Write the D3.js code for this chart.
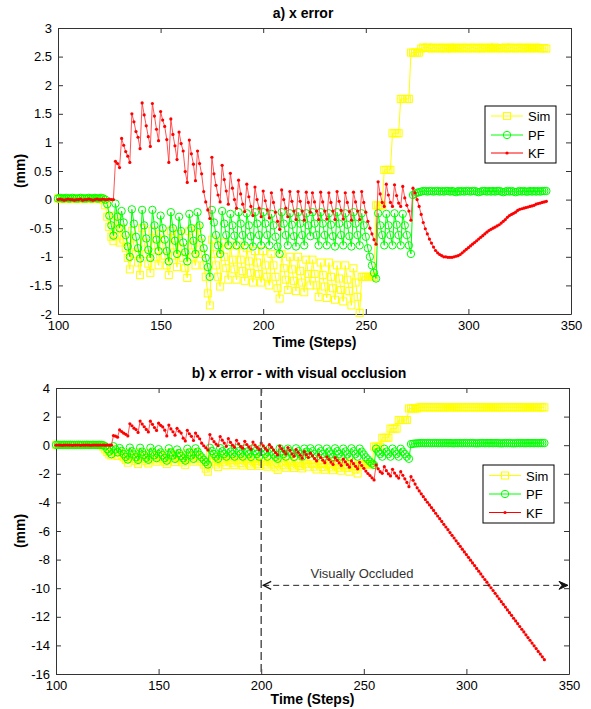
<!DOCTYPE html>
<html>
<head>
<meta charset="utf-8">
<title>x error</title>
<script src="https://d3js.org/d3.v7.min.js"></script>
<style>
  body { margin: 0; background: #fff; }
  text { font-family: Arial, "Liberation Sans", sans-serif; }
</style>
</head>
<body>
<script>
// time steps 100..338, one sample per step
var firstStep = 100;

var simErr = [
  0.02,0.02,0.01,0.02,0.02,0.01,0.02,0.02,0.01,0.02,   // 100
  0.02,0.01,0.02,0.02,0.01,0.02,0.02,0.01,0.02,0.02,   // 110
  0.01,0.02,0.00,-0.10,-0.30,-0.48,-0.65,-0.72,-0.28,-0.52, // 120
  -0.75,-0.50,-0.70,-0.85,-1.02,-1.22,-0.55,-0.80,-0.95,-1.10, // 130
  -1.32,-0.50,-0.75,-0.95,-1.12,-1.28,-0.55,-0.80,-1.00,-1.15, // 140
  -0.60,-0.80,-0.98,-1.15,-1.32,-0.55,-0.80,-0.98,-1.18,-0.60, // 150
  -0.85,-1.02,-1.20,-1.37,-0.55,-0.80,-1.00,-1.15,-0.50,-0.75, // 160
  -0.95,-1.15,-1.35,-1.64,-1.85,-0.70,-0.95,-1.15,-1.35,-1.52, // 170
  -0.75,-1.00,-1.20,-1.40,-0.80,-1.05,-1.22,-1.40,-0.80,-1.05, // 180
  -1.25,-1.42,-0.85,-1.08,-1.28,-1.45,-0.90,-1.10,-1.30,-1.45, // 190
  -0.90,-1.15,-1.35,-1.50,-0.95,-1.15,-1.35,-1.55,-1.73,-0.95, // 200
  -1.20,-1.40,-1.58,-1.00,-1.22,-1.42,-1.60,-1.00,-1.25,-1.45, // 210
  -1.62,-1.05,-1.30,-1.50,-1.05,-1.30,-1.50,-1.70,-1.10,-1.32, // 220
  -1.52,-1.72,-1.10,-1.35,-1.55,-1.75,-1.15,-1.38,-1.58,-1.78, // 230
  -1.15,-1.40,-1.60,-1.85,-1.20,-1.45,-1.70,-1.98,-1.35,-1.35, // 240
  -1.35,-1.35,-1.35,-1.35,-1.35,-0.10,-0.10,-0.10,-0.10,0.52,  // 250
  0.52,0.52,0.52,1.16,1.16,1.16,1.16,1.76,1.76,1.76,          // 260
  1.76,1.76,2.57,2.57,2.57,2.57,2.57,2.64,2.66,2.65,          // 270
  2.66,2.65,2.64,2.66,2.65,2.65,2.64,2.66,2.65,2.64,          // 280
  2.65,2.66,2.64,2.65,2.66,2.65,2.64,2.65,2.66,2.65,          // 290
  2.64,2.65,2.66,2.65,2.64,2.65,2.66,2.64,2.65,2.65,          // 300
  2.66,2.64,2.65,2.66,2.65,2.64,2.65,2.65,2.66,2.64,          // 310
  2.65,2.66,2.65,2.64,2.65,2.66,2.65,2.64,2.65,2.66,          // 320
  2.65,2.64,2.65,2.66,2.65,2.64,2.65,2.65,2.64                // 330
];

var pfErr = [
  0.02,0.03,0.02,0.02,0.03,0.02,0.02,0.03,0.02,0.02,   // 100
  0.02,0.03,0.02,0.02,0.02,0.03,0.02,0.02,0.03,0.02,   // 110
  0.02,0.03,0.02,0.00,-0.08,-0.28,-0.45,-0.63,-0.07,-0.30, // 120
  -0.50,-0.20,-0.40,-0.62,-0.82,-1.00,-0.17,-0.42,-0.65,-0.85, // 130
  -1.03,-0.18,-0.45,-0.68,-0.88,-1.02,-0.18,-0.45,-0.70,-0.90, // 140
  -0.28,-0.50,-0.70,-0.90,-1.08,-0.22,-0.50,-0.72,-0.95,-0.30, // 150
  -0.55,-0.75,-0.92,-1.08,-0.25,-0.50,-0.72,-0.95,-0.22,-0.45, // 160
  -0.68,-0.85,-1.02,-1.18,-1.35,-0.18,-0.40,-0.62,-0.80,-0.95, // 170
  -0.20,-0.42,-0.62,-0.80,-0.25,-0.45,-0.63,-0.80,-0.22,-0.42, // 180
  -0.62,-0.80,-0.24,-0.45,-0.64,-0.82,-0.22,-0.42,-0.62,-0.80, // 190
  -0.22,-0.42,-0.62,-0.80,-0.25,-0.45,-0.65,-0.82,-0.95,-0.22, // 200
  -0.42,-0.62,-0.80,-0.24,-0.44,-0.64,-0.82,-0.22,-0.42,-0.62, // 210
  -0.80,-0.24,-0.45,-0.64,-0.22,-0.42,-0.62,-0.80,-0.22,-0.42, // 220
  -0.62,-0.80,-0.24,-0.44,-0.64,-0.82,-0.22,-0.42,-0.62,-0.80, // 230
  -0.24,-0.44,-0.64,-0.82,-0.22,-0.42,-0.62,-0.80,-0.24,-0.45, // 240
  -0.65,-0.85,-1.00,-1.15,-1.28,-1.38,-0.24,-0.45,-0.62,-0.80, // 250
  -0.25,-0.45,-0.62,-0.80,-0.24,-0.44,-0.62,-0.80,-0.25,-0.45, // 260
  -0.62,-0.80,-0.95,0.08,0.10,0.12,0.13,0.14,0.15,0.15,      // 270
  0.14,0.15,0.15,0.14,0.15,0.15,0.14,0.15,0.14,0.15,         // 280
  0.15,0.14,0.15,0.14,0.13,0.15,0.14,0.15,0.14,0.15,         // 290
  0.15,0.14,0.15,0.15,0.14,0.13,0.14,0.15,0.15,0.14,         // 300
  0.15,0.14,0.15,0.14,0.15,0.15,0.14,0.13,0.14,0.15,         // 310
  0.14,0.15,0.14,0.13,0.14,0.15,0.14,0.15,0.14,0.14,         // 320
  0.15,0.14,0.15,0.14,0.15,0.14,0.15,0.15,0.15               // 330
];

var kfErr = [
  0.00,0.01,0.00,-0.01,0.00,0.01,0.00,0.00,-0.01,0.00,  // 100
  0.00,0.01,-0.01,0.00,0.00,0.01,0.00,-0.01,0.00,0.01,  // 110
  0.00,0.00,0.01,0.00,0.00,0.01,0.00,0.00,0.67,0.63,    // 120
  0.56,1.07,0.95,0.84,0.76,0.65,1.50,1.36,1.19,1.09,    // 130
  0.89,1.69,1.48,1.29,1.10,0.93,1.68,1.46,1.23,1.03,    // 140
  1.54,1.39,1.28,1.05,0.65,1.41,1.14,0.94,0.70,1.18,    // 150
  0.98,0.85,0.49,0.30,1.04,0.80,0.62,0.33,0.85,0.63,    // 160
  0.45,0.14,-0.04,-0.18,-0.33,0.74,0.45,0.25,0.08,-0.04, // 170
  0.60,0.35,0.15,-0.08,0.46,0.20,0.00,-0.15,0.34,0.10,  // 180
  -0.08,-0.21,0.27,0.05,-0.12,-0.28,0.22,0.00,-0.15,-0.30, // 190
  0.15,-0.02,-0.18,-0.32,0.12,-0.05,-0.22,-0.38,-0.52,0.17, // 200
  0.00,-0.15,-0.30,0.14,-0.03,-0.20,-0.35,0.14,-0.03,-0.20, // 210
  -0.36,0.13,-0.05,-0.22,0.12,-0.04,-0.20,-0.35,0.13,-0.04, // 220
  -0.20,-0.34,0.12,-0.05,-0.20,-0.35,0.14,-0.03,-0.19,-0.34, // 230
  0.12,-0.05,-0.21,-0.36,0.13,-0.04,-0.20,-0.35,0.14,-0.05, // 240
  -0.22,-0.38,-0.50,-0.60,-0.70,-0.78,0.31,0.10,-0.05,-0.12, // 250
  0.27,0.08,-0.05,-0.12,0.26,0.07,-0.06,-0.12,0.23,0.03,  // 260
  -0.10,-0.20,-0.36,0.20,0.12,0.00,-0.12,-0.26,-0.40,-0.51, // 270
  -0.60,-0.69,-0.76,-0.83,-0.89,-0.93,-0.96,-0.98,-1.00,-1.00, // 280
  -1.01,-1.01,-1.01,-1.00,-0.99,-0.98,-0.96,-0.93,-0.90,-0.87, // 290
  -0.84,-0.81,-0.78,-0.75,-0.72,-0.69,-0.66,-0.63,-0.60,-0.57, // 300
  -0.54,-0.52,-0.50,-0.48,-0.46,-0.44,-0.41,-0.38,-0.35,-0.31, // 310
  -0.28,-0.26,-0.24,-0.22,-0.19,-0.17,-0.16,-0.15,-0.14,-0.13, // 320
  -0.12,-0.11,-0.10,-0.08,-0.07,-0.06,-0.05,-0.04,-0.03        // 330
];

// KF with visual occlusion: identical up to step 199, then drifts away
var kfOccludedTail = [
  0.15,-0.04,-0.22,-0.38,0.04,-0.15,-0.34,-0.52,-0.68,-0.06,   // 200
  -0.25,-0.43,-0.61,-0.16,-0.36,-0.60,-0.77,-0.30,-0.50,-0.70, // 210
  -0.91,-0.45,-0.66,-0.86,-0.56,-0.74,-0.93,-1.10,-0.66,-0.86, // 220
  -1.05,-1.22,-0.81,-1.00,-1.18,-1.35,-0.87,-1.06,-1.24,-1.42, // 230
  -0.98,-1.17,-1.36,-1.54,-1.10,-1.29,-1.48,-1.65,-1.20,-1.42, // 240
  -1.62,-1.81,-1.98,-2.12,-2.28,-2.43,-1.38,-1.65,-1.85,-1.97, // 250
  -1.50,-1.78,-2.00,-2.15,-1.69,-1.95,-2.15,-2.30,-1.85,-2.10, // 260
  -2.35,-2.60,-2.90,-2.20,-2.45,-2.72,-2.98,-3.20,-3.40,-3.60, // 270
  -3.80,-3.99,-4.18,-4.37,-4.56,-4.76,-4.95,-5.14,-5.33,-5.53, // 280
  -5.72,-5.91,-6.11,-6.30,-6.49,-6.69,-6.88,-7.07,-7.27,-7.46, // 290
  -7.65,-7.84,-8.04,-8.23,-8.42,-8.62,-8.81,-9.00,-9.20,-9.39, // 300
  -9.58,-9.78,-9.97,-10.16,-10.36,-10.55,-10.74,-10.94,-11.13,-11.32, // 310
  -11.52,-11.71,-11.90,-12.10,-12.29,-12.48,-12.68,-12.87,-13.06,-13.26, // 320
  -13.45,-13.64,-13.84,-14.03,-14.22,-14.42,-14.61,-14.80,-15.00  // 330
];
var kfOccluded = kfErr.slice(0, 100).concat(kfOccludedTail);

var xTicks = [100, 150, 200, 250, 300, 350];
var yTicksA = [-2, -1.5, -1, -0.5, 0, 0.5, 1, 1.5, 2, 2.5, 3];
var yTicksB = [-16, -14, -12, -10, -8, -6, -4, -2, 0, 2, 4];
var legendNames = ["Sim", "PF", "KF"];
var occlusionStart = 200;
var occlusionLevel = -9.8;

var width_SVG = 591, height_SVG = 709;
var svg = d3.select("body").append("svg")
    .attr("width", width_SVG).attr("height", height_SVG)
    .style("background", "#fff");

function drawPanel(p) {
    var x = d3.scaleLinear().domain([100, 350]).range([p.left, p.right]);
    var y = d3.scaleLinear().domain(p.yDomain).range([p.bottom, p.top]);
    var g = svg.append("g");

    function axisStyle(sel) {
        sel.selectAll(".domain").attr("stroke", "#333");
        sel.selectAll(".tick line").attr("stroke", "#333");
        sel.selectAll("text").attr("fill", "#000").style("font-size", "13px")
           .style("font-family", "Arial, 'Liberation Sans', sans-serif");
    }

    g.append("g").attr("transform", "translate(0," + p.bottom + ")")
        .call(d3.axisBottom(x).tickValues(xTicks).tickSizeInner(-5).tickSizeOuter(0).tickPadding(7))
        .call(axisStyle);
    g.append("g").attr("transform", "translate(0," + p.top + ")")
        .call(d3.axisTop(x).tickValues(xTicks).tickSizeInner(-5).tickSizeOuter(0).tickFormat(""))
        .call(axisStyle);
    g.append("g").attr("transform", "translate(" + p.left + ",0)")
        .call(d3.axisLeft(y).tickValues(p.yTicks).tickSizeInner(-5).tickSizeOuter(0).tickPadding(6)
              .tickFormat(function(d) { return String(d); }))
        .call(axisStyle);
    g.append("g").attr("transform", "translate(" + p.right + ",0)")
        .call(d3.axisRight(y).tickValues(p.yTicks).tickSizeInner(-5).tickSizeOuter(0).tickFormat(""))
        .call(axisStyle);

    var line = d3.line()
        .x(function(d, i) { return x(firstStep + i); })
        .y(function(d) { return y(d); });

    // Sim
    g.append("path").datum(simErr).attr("d", line)
        .attr("fill", "none").attr("stroke", "#ffff00").attr("stroke-width", 1);
    g.append("g").selectAll("rect").data(simErr).enter().append("rect")
        .attr("x", function(d, i) { return x(firstStep + i) - 3.5; })
        .attr("y", function(d) { return y(d) - 3.5; })
        .attr("width", 7).attr("height", 7)
        .attr("fill", "none").attr("stroke", "#ffff00").attr("stroke-width", 1);

    // PF
    g.append("path").datum(pfErr).attr("d", line)
        .attr("fill", "none").attr("stroke", "#00ff00").attr("stroke-width", 1);
    g.append("g").selectAll("circle").data(pfErr).enter().append("circle")
        .attr("cx", function(d, i) { return x(firstStep + i); })
        .attr("cy", function(d) { return y(d); })
        .attr("r", 3.7)
        .attr("fill", "none").attr("stroke", "#00ff00").attr("stroke-width", 1);

    // KF
    g.append("path").datum(p.kf).attr("d", line)
        .attr("fill", "none").attr("stroke", "#ff4040").attr("stroke-width", 0.9);
    g.append("g").selectAll("circle").data(p.kf).enter().append("circle")
        .attr("cx", function(d, i) { return x(firstStep + i); })
        .attr("cy", function(d) { return y(d); })
        .attr("r", 1.6)
        .attr("fill", "#ff0000");

    // labels
    svg.append("text").attr("x", p.titleX).attr("y", p.titleY)
        .attr("text-anchor", "middle").style("font-size", "14px").style("font-weight", "bold")
        .text(p.title);
    svg.append("text").attr("x", (p.left + p.right) / 2).attr("y", p.xLabelY)
        .attr("text-anchor", "middle").style("font-size", "14px").style("font-weight", "bold")
        .text("Time (Steps)");
    svg.append("text")
        .attr("transform", "translate(25," + ((p.top + p.bottom) / 2) + ") rotate(-90)")
        .attr("text-anchor", "middle").style("font-size", "14px").style("font-weight", "bold")
        .text("(mm)");

    // legend
    var L = p.legend;
    svg.append("rect").attr("x", L.x).attr("y", L.y).attr("width", L.w).attr("height", L.h)
        .attr("fill", "#fff").attr("stroke", "#000").attr("stroke-width", 1);
    var colors = ["#ffff00", "#00ff00", "#ff0000"];
    legendNames.forEach(function(name, i) {
        var ry = L.y + L.rows[i];
        var x0 = L.x + 6, x1 = L.x + 38, xm = (x0 + x1) / 2;
        svg.append("line").attr("x1", x0).attr("x2", x1).attr("y1", ry).attr("y2", ry)
            .attr("stroke", colors[i]).attr("stroke-width", 1);
        if (i === 0) {
            svg.append("rect").attr("x", xm - 3.5).attr("y", ry - 3.5).attr("width", 7).attr("height", 7)
                .attr("fill", "none").attr("stroke", colors[i]);
        } else if (i === 1) {
            svg.append("circle").attr("cx", xm).attr("cy", ry).attr("r", 3.7)
                .attr("fill", "none").attr("stroke", colors[i]);
        } else {
            svg.append("circle").attr("cx", xm).attr("cy", ry).attr("r", 1.6).attr("fill", colors[i]);
        }
        svg.append("text").attr("x", L.x + 43).attr("y", ry + 5)
            .style("font-size", "13px").text(name);
    });

    return { x: x, y: y };
}

drawPanel({
    left: 58, right: 571, top: 28, bottom: 314, yDomain: [-2, 3], yTicks: yTicksA,
    kf: kfErr, title: "a) x error", titleX: 303, titleY: 18, xLabelY: 347,
    legend: { x: 485, y: 106, w: 71, h: 57, rows: [10, 29, 47] }
});

var pb = drawPanel({
    left: 56, right: 569, top: 388, bottom: 674, yDomain: [-16, 4], yTicks: yTicksB,
    kf: kfOccluded, title: "b)  x error - with visual occlusion", titleX: 299, titleY: 378, xLabelY: 704,
    legend: { x: 483, y: 465, w: 71, h: 58, rows: [10.5, 29, 47.5] }
});

// occlusion marker
var ox = pb.x(occlusionStart), oy = pb.y(occlusionLevel), xr = pb.x(350);
svg.append("line").attr("x1", ox).attr("x2", ox).attr("y1", 388).attr("y2", 674)
    .attr("stroke", "#555").attr("stroke-width", 1.5).attr("stroke-dasharray", "8,4");
svg.append("line").attr("x1", ox + 2).attr("x2", xr - 2).attr("y1", oy).attr("y2", oy)
    .attr("stroke", "#222").attr("stroke-width", 1).attr("stroke-dasharray", "6,4");
svg.append("path")
    .attr("d", "M" + (ox + 10) + "," + (oy - 4) + "L" + (ox + 2) + "," + oy + "L" + (ox + 10) + "," + (oy + 4))
    .attr("fill", "none").attr("stroke", "#111").attr("stroke-width", 1.2);
svg.append("path")
    .attr("d", "M" + (xr - 10) + "," + (oy - 4) + "L" + (xr - 1) + "," + oy + "L" + (xr - 10) + "," + (oy + 4) + "L" + (xr - 7) + "," + oy + "Z")
    .attr("fill", "#111").attr("stroke", "#111").attr("stroke-width", 1);
svg.append("text").attr("x", 362).attr("y", 578).attr("text-anchor", "middle")
    .style("font-size", "13px").attr("fill", "#333").text("Visually Occluded");
</script>
</body>
</html>
